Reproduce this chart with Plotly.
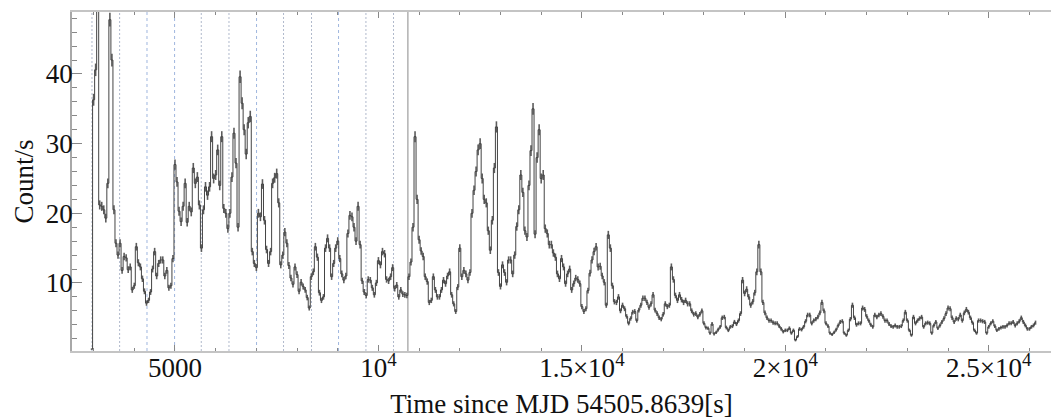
import numpy as np
import plotly.graph_objects as go

# ---------------- data ----------------
T_START = 2950.0   # centre of the first 50 s bin [s since MJD 54505.8639]
BIN = 50.0         # bin width [s]

rate = [
    # 2950 - 8800 s
    0.5, 36.3, 40.6, 55.0, 21.2, 21.0, 20.5, 19.3, 24.3, 47.8,
    42.0, 20.5, 15.7, 14.0, 15.7, 11.8, 13.8, 13.6, 11.9, 12.3,
    9.0, 9.6, 15.2, 12.9, 12.3, 10.6, 8.8, 7.1, 7.5, 8.7,
    12.0, 14.5, 11.0, 12.8, 13.3, 13.3, 11.0, 11.8, 9.3, 9.6,
    13.5, 27.0, 24.5, 20.3, 18.8, 21.0, 24.3, 18.7, 21.0, 20.2,
    26.5, 24.3, 25.2, 21.2, 15.0, 20.5, 23.8, 22.6, 23.8, 31.0,
    25.0, 25.5, 29.1, 24.0, 31.0, 20.7, 20.0, 17.8, 20.0, 25.2,
    31.5, 27.2, 18.0, 39.6, 35.8, 32.0, 28.5, 33.0, 33.9, 14.5,
    12.8, 12.2, 20.0, 19.5, 24.2, 19.0, 14.8, 12.8, 14.5, 24.3,
    25.1, 25.7, 21.5, 12.6, 14.0, 17.3, 15.7, 12.5, 10.7, 9.8,
    12.3, 11.2, 8.8, 10.1, 9.5, 9.0, 7.9, 6.4, 10.9, 11.6,
    15.2, 13.7, 8.6, 7.5, 8.0, 15.0, 16.4, 15.0,
    # 8850 - 14700 s
    10.9, 12.8, 15.0, 16.0, 13.5, 11.3, 10.4, 11.0, 17.1, 19.7,
    19.5, 18.0, 16.0, 21.0, 15.5, 10.3, 8.7, 8.2, 10.5, 10.4,
    9.3, 8.3, 10.0, 13.2, 12.6, 14.5, 14.2, 10.5, 10.3, 10.9,
    12.2, 9.2, 9.7, 8.0, 9.0, 8.4, 8.3, 8.2, 10.9, 13.0,
    18.0, 31.0, 22.0, 16.2, 14.6, 13.8, 10.9, 10.2, 7.2, 7.5,
    10.9, 9.0, 8.0, 8.0, 9.0, 10.4, 9.9, 11.0, 11.6, 8.3,
    7.0, 5.9, 9.4, 15.0, 10.9, 11.8, 11.3, 10.4, 11.5, 20.0,
    23.3, 26.0, 29.1, 30.0, 25.0, 22.0, 21.5, 17.5, 14.7, 19.0,
    26.5, 32.4, 11.5, 9.5, 12.6, 11.5, 10.1, 13.3, 13.3, 11.3,
    14.0, 18.1, 20.5, 25.5, 23.0, 17.5, 16.6, 24.0, 29.0, 35.0,
    17.0, 28.0, 32.0, 25.0, 25.5, 17.8, 17.1, 15.5, 15.5, 14.3,
    13.7, 11.3, 10.6, 13.5, 12.3, 9.9, 11.3, 12.0,
    # 14750 - 20600 s
    9.0, 9.9, 10.7, 10.5, 9.9, 6.6, 5.9, 6.3, 8.9, 11.4,
    13.3, 14.5, 15.2, 12.3, 12.4, 11.0, 10.1, 6.8, 16.9, 15.0,
    9.6, 7.3, 7.2, 8.0, 6.0, 6.8, 6.3, 5.2, 4.2, 4.9,
    5.8, 5.9, 4.6, 6.1, 6.8, 7.8, 7.8, 7.2, 6.5, 7.0,
    8.3, 6.1, 5.6, 5.0, 4.8, 5.5, 7.0, 6.6, 6.8, 12.3,
    10.5, 8.2, 7.5, 8.3, 7.6, 7.2, 7.5, 7.0, 7.0, 6.0,
    5.5, 5.6, 5.1, 5.5, 6.0, 4.2, 3.6, 3.5, 2.8, 4.1,
    2.7, 2.9, 3.3, 3.7, 5.0, 5.1, 3.6, 3.2, 3.7, 3.8,
    4.4, 4.1, 4.6, 5.6, 10.4, 8.5, 9.1, 8.0, 6.8, 7.3,
    8.6, 11.6, 15.5, 11.6, 7.2, 5.7, 5.0, 4.6, 4.6, 4.3,
    4.2, 4.2, 3.8, 3.4, 3.0, 3.2, 3.2, 3.5, 2.8, 3.2,
    1.8, 2.3, 3.4, 3.3, 3.7, 4.5, 5.4, 5.4,
    # 20650 - 26150 s
    4.2, 4.6, 4.8, 5.1, 5.7, 7.2, 6.0, 4.2, 3.8, 2.8,
    2.6, 2.9, 3.3, 3.9, 4.4, 4.5, 2.8, 2.5, 3.2, 4.8,
    6.8, 5.0, 4.0, 4.2, 4.2, 6.4, 6.2, 5.2, 4.6, 4.0,
    3.7, 5.4, 5.1, 5.4, 5.6, 5.2, 4.6, 4.6, 4.1, 3.8,
    3.7, 3.9, 3.7, 3.7, 3.8, 4.6, 5.8, 4.6, 3.2, 2.5,
    5.1, 4.2, 4.6, 4.9, 5.1, 3.7, 4.2, 4.3, 4.2, 2.8,
    3.9, 4.4, 3.5, 3.9, 4.4, 4.9, 5.6, 6.4, 6.3, 5.0,
    4.4, 4.9, 4.8, 5.4, 4.6, 5.7, 6.2, 5.8, 5.0, 4.3,
    3.2, 2.8, 4.6, 4.6, 4.5, 4.4, 2.8, 3.7, 4.2, 4.5,
    3.8, 3.2, 3.4, 3.6, 3.7, 3.7, 3.9, 4.2, 4.2, 4.4,
    3.9, 4.2, 4.5, 5.0, 4.4, 3.9, 3.4, 3.4, 3.7, 3.9,
    4.3,
]

# segment boundaries (vertical reference lines), times in s
blue_dashed_lines = [4312, 4990, 7005, 9020]
gray_dotted_lines = [2960, 3639, 5646, 6327, 7668, 8356, 9693, 10371]
solid_lines = [10725]

x_tick_vals = [5000, 10000, 15000, 20000, 25000]
x_tick_text = ["5000", "10<sup>4</sup>", "1.5×10<sup>4</sup>",
               "2×10<sup>4</sup>", "2.5×10<sup>4</sup>"]
y_tick_vals = [10, 20, 30, 40]
y_tick_text = ["10", "20", "30", "40"]

x_range = [2469, 26530]
y_range = [0.23, 48.9]

# ---------------- figure ----------------
rate_arr = np.array(rate)
time = T_START + BIN * np.arange(len(rate_arr))
err = np.sqrt(rate_arr * BIN) / BIN   # Poisson error of a binned rate

FONT = "Liberation Serif, Times New Roman, serif"

fig = go.Figure()
fig.add_trace(go.Scatter(
    x=time, y=rate_arr, mode="lines",
    line=dict(color="#444444", width=1, shape="hvh"),
    error_y=dict(type="data", array=err, visible=True,
                 color="#5c5c5c", thickness=1.6, width=0),
    showlegend=False, hoverinfo="skip",
))

for t in blue_dashed_lines:
    fig.add_shape(type="line", x0=t, x1=t, xref="x", yref="paper", y0=0, y1=1,
                  line=dict(color="#9fb6de", width=1, dash="3px,3px"), layer="below")
for t in gray_dotted_lines:
    fig.add_shape(type="line", x0=t, x1=t, xref="x", yref="paper", y0=0, y1=1,
                  line=dict(color="#b0b9cc", width=1, dash="2px,2px"), layer="below")
for t in solid_lines:
    fig.add_shape(type="line", x0=t, x1=t, xref="x", yref="paper", y0=0, y1=1,
                  line=dict(color="#8a8a8a", width=1), layer="below")

fig.update_layout(
    width=1051, height=419,
    margin=dict(l=72, r=0, t=12, b=68),
    paper_bgcolor="white", plot_bgcolor="white",
    font=dict(family=FONT, size=27, color="#111111"),
    xaxis=dict(
        range=x_range, showgrid=False, zeroline=False,
        showline=True, linecolor="#c4c4c4", linewidth=2, mirror="ticks",
        ticks="inside", ticklen=6, tickwidth=1, tickcolor="#888888",
        tickmode="array", tickvals=x_tick_vals, ticktext=x_tick_text,
        tickfont=dict(family=FONT, size=27), ticklabelstandoff=-8,
        minor=dict(ticks="inside", ticklen=3, tickcolor="#888888",
                   tick0=0, dtick=1000, showgrid=False),
        title=dict(text="Time since MJD 54505.8639[s]",
                   font=dict(family=FONT, size=27), standoff=14),
    ),
    yaxis=dict(
        range=y_range, showgrid=False, zeroline=False,
        showline=True, linecolor="#a8a8a8", linewidth=1.5, mirror=False,
        ticks="inside", ticklen=10, tickwidth=1, tickcolor="#888888",
        tickmode="array", tickvals=y_tick_vals, ticktext=y_tick_text,
        tickfont=dict(family=FONT, size=27), ticklabelstandoff=-8,
        minor=dict(ticks="inside", ticklen=5, tickcolor="#888888",
                   tick0=0, dtick=2, showgrid=False),
        title=dict(text="Count/s", font=dict(family=FONT, size=27), standoff=4),
    ),
)

fig.write_html("out.html")
